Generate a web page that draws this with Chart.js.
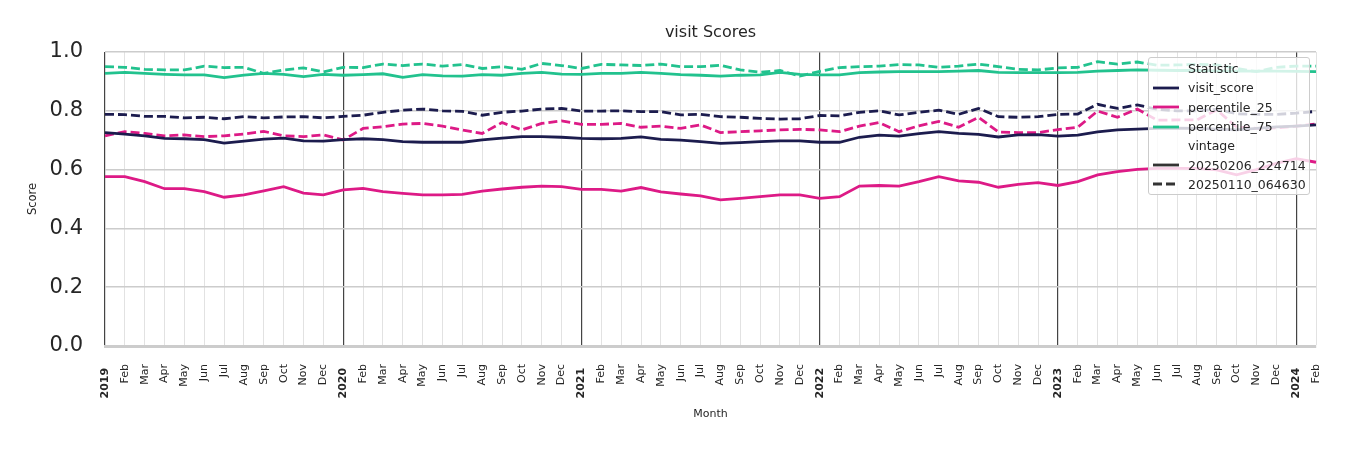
<!DOCTYPE html>
<html>
<head>
<meta charset="utf-8">
<script src="https://cdn.jsdelivr.net/npm/chart.js@4.4.1/dist/chart.umd.min.js"></script>
<style>
  html, body { margin: 0; padding: 0; background: #ffffff; }
  #wrap { position: relative; width: 1350px; height: 450px; }
  #legend {
    position: absolute; left: 1148px; top: 57px; width: 162px; height: 138px;
    background: rgba(255, 255, 255, 0.8); border: 1px solid #cccccc; border-radius: 3px;
    box-sizing: border-box; padding-top: 1px;
    font-family: 'DejaVu Sans', sans-serif; font-size: 12.5px; color: #262626;
  }
  .row { display: flex; align-items: center; height: 19.3px; white-space: nowrap; }
  .row svg { margin-left: 4px; margin-right: 9px; }
  .head { padding-left: 39px; }
</style>
</head>
<body>
<div id="wrap">
  <canvas id="scoreChart" width="1350" height="450"></canvas>
  <div id="legend"></div>
</div>
<script>
// categories: one per month, Jan 2019 .. Feb 2024
const years = [2019, 2020, 2021, 2022, 2023, 2024];
const monthNames = ['Jan', 'Feb', 'Mar', 'Apr', 'May', 'Jun', 'Jul', 'Aug', 'Sep', 'Oct', 'Nov', 'Dec'];
const months = [];
years.forEach(y => monthNames.forEach((m, i) => {
    if (y < 2024 || i < 2) months.push(i === 0 ? String(y) : m);
}));

const yTicks = [0.0, 0.2, 0.4, 0.6, 0.8, 1.0];

// vintage 20250206_224714 (solid)
const visitNew = [0.726, 0.721, 0.715, 0.706, 0.705, 0.702, 0.690, 0.697, 0.704, 0.707, 0.698, 0.697,
    0.702, 0.705, 0.702, 0.695, 0.693, 0.693, 0.693, 0.701, 0.707, 0.712, 0.712, 0.710,
    0.706, 0.705, 0.706, 0.711, 0.703, 0.700, 0.695, 0.689, 0.692, 0.695, 0.698, 0.698,
    0.693, 0.693, 0.710, 0.717, 0.714, 0.722, 0.729, 0.723, 0.720, 0.711, 0.718, 0.719,
    0.714, 0.717, 0.728, 0.735, 0.738, 0.740, 0.741, 0.740, 0.738, 0.735, 0.740, 0.745,
    0.748, 0.752];
const p25New = [0.576, 0.576, 0.559, 0.535, 0.535, 0.525, 0.506, 0.514, 0.528, 0.542, 0.520, 0.514,
    0.531, 0.536, 0.525, 0.519, 0.514, 0.514, 0.516, 0.527, 0.534, 0.540, 0.544, 0.542,
    0.533, 0.533, 0.527, 0.539, 0.524, 0.517, 0.511, 0.497, 0.502, 0.508, 0.514, 0.514,
    0.502, 0.508, 0.544, 0.546, 0.544, 0.559, 0.576, 0.562, 0.557, 0.540, 0.550, 0.556,
    0.546, 0.559, 0.582, 0.593, 0.601, 0.604, 0.604, 0.604, 0.599, 0.582, 0.600, 0.621,
    0.637, 0.625];
const p75New = [0.927, 0.931, 0.927, 0.924, 0.922, 0.922, 0.913, 0.921, 0.927, 0.924, 0.916, 0.924,
    0.921, 0.923, 0.926, 0.914, 0.923, 0.919, 0.918, 0.923, 0.921, 0.927, 0.931, 0.925,
    0.924, 0.927, 0.927, 0.931, 0.927, 0.923, 0.921, 0.918, 0.921, 0.922, 0.931, 0.924,
    0.922, 0.922, 0.930, 0.932, 0.933, 0.933, 0.933, 0.935, 0.937, 0.931, 0.930, 0.930,
    0.930, 0.931, 0.935, 0.937, 0.939, 0.938, 0.937, 0.937, 0.936, 0.935, 0.935, 0.935,
    0.934, 0.933];

// vintage 20250110_064630 (dashed)
const visitOld = [0.788, 0.787, 0.781, 0.781, 0.776, 0.778, 0.773, 0.780, 0.776, 0.779, 0.780, 0.776,
    0.781, 0.785, 0.795, 0.802, 0.806, 0.800, 0.798, 0.785, 0.795, 0.799, 0.806, 0.808,
    0.799, 0.799, 0.800, 0.797, 0.797, 0.786, 0.788, 0.780, 0.778, 0.774, 0.772, 0.773,
    0.784, 0.783, 0.795, 0.800, 0.786, 0.795, 0.802, 0.788, 0.808, 0.780, 0.778, 0.780,
    0.788, 0.789, 0.822, 0.808, 0.820, 0.805, 0.800, 0.800, 0.805, 0.790, 0.788, 0.788,
    0.792, 0.798];
const p25Old = [0.715, 0.729, 0.723, 0.715, 0.718, 0.712, 0.715, 0.721, 0.730, 0.715, 0.712, 0.718,
    0.701, 0.740, 0.746, 0.755, 0.757, 0.748, 0.735, 0.723, 0.760, 0.735, 0.757, 0.766,
    0.754, 0.754, 0.757, 0.744, 0.748, 0.740, 0.752, 0.726, 0.729, 0.732, 0.735, 0.737,
    0.735, 0.729, 0.748, 0.760, 0.729, 0.749, 0.764, 0.744, 0.778, 0.728, 0.726, 0.726,
    0.736, 0.744, 0.799, 0.778, 0.806, 0.768, 0.769, 0.769, 0.803, 0.745, 0.740, 0.742,
    0.748, 0.755];
const p75Old = [0.950, 0.948, 0.941, 0.939, 0.939, 0.952, 0.947, 0.948, 0.927, 0.939, 0.946, 0.932,
    0.948, 0.947, 0.959, 0.954, 0.959, 0.952, 0.957, 0.944, 0.950, 0.941, 0.961, 0.954,
    0.944, 0.958, 0.956, 0.954, 0.959, 0.950, 0.950, 0.955, 0.939, 0.931, 0.937, 0.918,
    0.934, 0.947, 0.950, 0.952, 0.957, 0.956, 0.948, 0.952, 0.959, 0.950, 0.941, 0.939,
    0.946, 0.948, 0.967, 0.959, 0.966, 0.955, 0.956, 0.958, 0.956, 0.944, 0.933, 0.948,
    0.952, 0.952];

const NAVY = '#1c1c4e';
const PINK = '#dd1a86';
const GREEN = '#22c28e';
const DASH = [9, 4];
const FONT = "'DejaVu Sans', sans-serif";

function line(data, color, dashed) {
    return {
        data: data,
        borderColor: color,
        backgroundColor: color,
        borderWidth: 2.8,
        borderDash: dashed ? DASH : [],
        pointRadius: 0,
        tension: 0,
        fill: false
    };
}

// title centred over the plot area (the built-in one centres on the canvas)
const plotTitle = {
    id: 'plotTitle',
    afterDraw(chart, args, opts) {
        const { ctx, chartArea } = chart;
        ctx.save();
        ctx.font = '16px ' + FONT;
        ctx.fillStyle = '#262626';
        ctx.textAlign = 'center';
        ctx.textBaseline = 'middle';
        ctx.fillText(opts.text, (chartArea.left + chartArea.right) / 2, 33);
        ctx.restore();
    }
};

const ctx = document.getElementById('scoreChart').getContext('2d');

const scoreChart = new Chart(ctx, {
    type: 'line',
    data: {
        labels: months,
        datasets: [
            line(visitNew, NAVY, false),
            line(p25New, PINK, false),
            line(p75New, GREEN, false),
            line(visitOld, NAVY, true),
            line(p25Old, PINK, true),
            line(p75Old, GREEN, true)
        ]
    },
    plugins: [plotTitle],
    options: {
        responsive: false,
        animation: false,
        layout: { padding: { left: 0, right: 34, top: 52, bottom: 0 } },
        plugins: {
            legend: { display: false },
            tooltip: { enabled: false },
            title: { display: false },
            plotTitle: { text: 'visit Scores' }
        },
        scales: {
            x: {
                offset: false,
                afterFit: s => { s.height = 104; },
                border: { color: '#cccccc', width: 3 },
                grid: {
                    drawTicks: false,
                    color: c => (c.index % 12 === 0 ? '#444444' : '#e2e2e2'),
                    lineWidth: c => (c.index % 12 === 0 ? 1.2 : 1)
                },
                ticks: {
                    autoSkip: false,
                    minRotation: 90,
                    maxRotation: 90,
                    padding: 18,
                    color: '#262626',
                    callback: function (v, i) {
                        const t = months[i];
                        return i % 12 === 0 ? t + ' ' : t;
                    },
                    font: c => ({ family: FONT, size: 11, weight: c.index % 12 === 0 ? 'bold' : 'normal' })
                },
                title: {
                    display: true,
                    text: 'Month',
                    color: '#262626',
                    font: { family: FONT, size: 11 },
                    padding: { top: 0, bottom: 29.4 }
                }
            },
            y: {
                min: 0,
                max: 1,
                afterFit: s => { s.width = 105; },
                afterBuildTicks: s => { s.ticks = yTicks.map(v => ({ value: v })); },
                border: { display: false },
                grid: { drawTicks: false, color: '#cccccc', lineWidth: 1.5 },
                ticks: {
                    padding: 22,
                    color: '#262626',
                    font: { family: FONT, size: 21 },
                    callback: v => v.toFixed(1)
                },
                title: {
                    display: true,
                    text: 'Score',
                    color: '#262626',
                    font: { family: FONT, size: 11.5 },
                    padding: { top: 26.1, bottom: 0 }
                }
            }
        }
    }
});

// legend drawn as an overlay box, like the reference
const legendRows = [
    { head: 'Statistic' },
    { label: 'visit_score', color: NAVY },
    { label: 'percentile_25', color: PINK },
    { label: 'percentile_75', color: GREEN },
    { head: 'vintage' },
    { label: '20250206_224714', color: '#333333' },
    { label: '20250110_064630', color: '#333333', dashed: true }
];
const legendBox = document.getElementById('legend');
legendRows.forEach(r => {
    const row = document.createElement('div');
    row.className = 'row';
    if (r.head) {
        row.classList.add('head');
        row.textContent = r.head;
    } else {
        const dash = r.dashed ? ' stroke-dasharray="9 4"' : '';
        row.innerHTML = '<svg width="26" height="6"><line x1="0" y1="3" x2="26" y2="3" stroke="' + r.color +
            '" stroke-width="2.8"' + dash + '/></svg><span>' + r.label + '</span>';
    }
    legendBox.appendChild(row);
});
</script>
</body>
</html>
